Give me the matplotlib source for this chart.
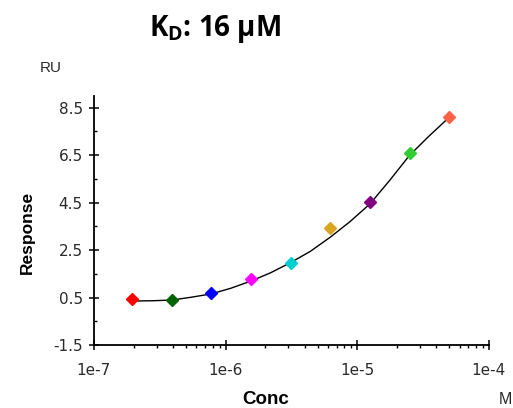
import numpy as np
import matplotlib
matplotlib.use('Agg')
import matplotlib.pyplot as plt
from matplotlib.ticker import FixedLocator, LogLocator, NullFormatter

# measured points (conc in M, response in RU)
conc = [1.95e-7, 3.9e-7, 7.8e-7, 1.56e-6, 3.125e-6, 6.25e-6, 1.25e-5, 2.5e-5, 5.0e-5]
resp = [0.46, 0.39, 0.70, 1.30, 1.96, 3.44, 4.52, 6.58, 8.12]
colors = ['#ff0000', '#006400', '#0000ff', '#ff00ff', '#00ced1',
          '#daa520', '#800080', '#32cd32', '#ff6347']

# fitted curve
fit_conc = [1.95e-7, 2.76e-7, 3.9e-7, 5.5e-7, 7.8e-7, 1.1e-6, 1.56e-6, 2.2e-6,
            3.125e-6, 4.4e-6, 6.25e-6, 8.8e-6, 1.25e-5, 1.77e-5, 2.5e-5, 3.5e-5, 5.0e-5]
fit_resp = [0.36, 0.37, 0.40, 0.52, 0.66, 0.90, 1.20, 1.55,
            1.98, 2.45, 3.05, 3.70, 4.45, 5.45, 6.50, 7.30, 8.10]

yticks = [-1.5, 0.5, 2.5, 4.5, 6.5, 8.5]
xticks = [1e-7, 1e-6, 1e-5, 1e-4]
xticklabels = ['1e-7', '1e-6', '1e-5', '1e-4']

fig = plt.figure(figsize=(5.13, 4.08), dpi=100)
ax = fig.add_axes([0.183, 0.154, 0.770, 0.611])

ax.plot(fit_conc, fit_resp, color='black', lw=1.0, zorder=2)
for c, r, col in zip(conc, resp, colors):
    ax.plot(c, r, marker='D', ms=6.5, color=col, mec=col, ls='none', zorder=3)

ax.set_xscale('log')
ax.set_xlim(1e-7, 1e-4)
ax.set_ylim(-1.5, 9.0)

ax.spines['top'].set_visible(False)
ax.spines['right'].set_visible(False)
ax.spines['left'].set_linewidth(1.3)
ax.spines['bottom'].set_linewidth(1.3)

ax.xaxis.set_major_locator(FixedLocator(xticks))
ax.set_xticklabels(xticklabels)
ax.xaxis.set_minor_locator(LogLocator(base=10, subs=np.arange(2, 10)))
ax.xaxis.set_minor_formatter(NullFormatter())
ax.set_yticks(yticks)
ax.set_yticklabels([str(v) for v in yticks])
ax.yaxis.set_minor_locator(FixedLocator([-0.5, 1.5, 3.5, 5.5, 7.5]))

ax.tick_params(which='major', direction='inout', length=7, width=1.1,
               labelsize=11, labelcolor='#2a2a2a')
ax.tick_params(axis='x', which='major', pad=9)
ax.tick_params(axis='y', which='major', pad=4.5)
ax.tick_params(axis='x', which='minor', direction='out', length=2.5, width=1)
ax.tick_params(axis='y', which='minor', direction='in', length=2.5, width=1)
for lab in ax.get_xticklabels() + ax.get_yticklabels():
    lab.set_fontfamily('DejaVu Sans')

fig.text(0.419, 0.93, r'K$_\mathregular{D}$: 16 µM', ha='center', va='center',
         fontsize=20, fontweight='bold', family='Open Sans')
fig.text(0.077, 0.833, 'RU', ha='left', va='center', fontsize=11,
         color='#2a2a2a', family='Liberation Sans')
fig.text(0.054, 0.43, 'Response', ha='center', va='center', rotation=90,
         fontsize=12.5, fontweight='bold', family='Liberation Sans')
fig.text(0.517, 0.022, 'Conc', ha='center', va='center', fontsize=13.5,
         fontweight='bold', family='Liberation Sans')
fig.text(0.985, 0.022, 'M', ha='center', va='center', fontsize=11.5,
         color='#2a2a2a', family='Liberation Sans')

fig.savefig('out.png', dpi=100)
